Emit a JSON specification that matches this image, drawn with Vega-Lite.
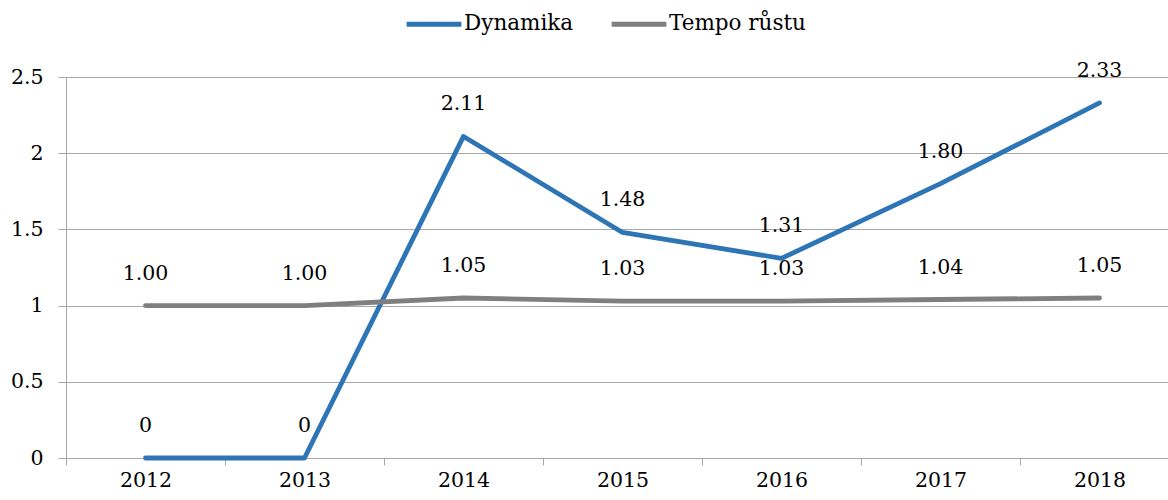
{
  "$schema": "https://vega.github.io/schema/vega-lite/v6.json",
  "width": 1102,
  "height": 381,
  "autosize": "none",
  "padding": {"left": 66, "top": 77, "right": 0, "bottom": 42},
  "background": "white",
  "config": {
    "view": {"stroke": null},
    "font": "DejaVu Serif"
  },
  "data": {"values": [
    {"year": "2012", "series": "Dynamika", "value": 0, "label": "0"},
    {"year": "2013", "series": "Dynamika", "value": 0, "label": "0"},
    {"year": "2014", "series": "Dynamika", "value": 2.11, "label": "2.11"},
    {"year": "2015", "series": "Dynamika", "value": 1.48, "label": "1.48"},
    {"year": "2016", "series": "Dynamika", "value": 1.31, "label": "1.31"},
    {"year": "2017", "series": "Dynamika", "value": 1.80, "label": "1.80"},
    {"year": "2018", "series": "Dynamika", "value": 2.33, "label": "2.33"},
    {"year": "2012", "series": "Tempo růstu", "value": 1.00, "label": "1.00"},
    {"year": "2013", "series": "Tempo růstu", "value": 1.00, "label": "1.00"},
    {"year": "2014", "series": "Tempo růstu", "value": 1.05, "label": "1.05"},
    {"year": "2015", "series": "Tempo růstu", "value": 1.03, "label": "1.03"},
    {"year": "2016", "series": "Tempo růstu", "value": 1.03, "label": "1.03"},
    {"year": "2017", "series": "Tempo růstu", "value": 1.04, "label": "1.04"},
    {"year": "2018", "series": "Tempo růstu", "value": 1.05, "label": "1.05"}
  ]},
  "encoding": {
    "x": {
      "field": "year", "type": "ordinal",
      "scale": {"range": [0, 1113], "paddingInner": 0, "paddingOuter": 0},
      "axis": {
        "title": null, "labelAngle": 0, "tickBand": "extent",
        "domainColor": "#a6a6a6", "tickColor": "#a6a6a6", "tickSize": 7,
        "labelFontSize": 20.5, "labelFont": "DejaVu Serif", "labelColor": "black",
        "labelPadding": 5, "grid": false
      }
    },
    "y": {
      "field": "value", "type": "quantitative",
      "scale": {"domain": [0, 2.5], "nice": false},
      "axis": {
        "title": null, "values": [0, 0.5, 1, 1.5, 2, 2.5], "format": "~g",
        "domainColor": "#a6a6a6", "tickColor": "#a6a6a6", "tickSize": 8,
        "gridColor": "#a6a6a6", "gridWidth": 1.2,
        "labelFontSize": 20.5, "labelFont": "DejaVu Serif", "labelColor": "black",
        "labelPadding": 15
      }
    }
  },
  "layer": [
    {
      "mark": {"type": "line", "strokeWidth": 4.8, "strokeCap": "round", "strokeJoin": "round"},
      "encoding": {
        "color": {
          "field": "series", "type": "nominal",
          "scale": {"domain": ["Dynamika", "Tempo růstu"], "range": ["#2e75b6", "#7f7f7f"]},
          "legend": {
            "title": null, "orient": "none", "direction": "horizontal",
            "legendX": 338, "legendY": -83,
            "symbolType": "stroke", "symbolSize": 3000, "symbolStrokeWidth": 4.8,
            "labelFontSize": 21.5, "labelFont": "DejaVu Serif", "labelColor": "black",
            "labelOffset": 0, "columnPadding": 28
          }
        },
        "order": {"field": "series", "sort": "ascending"}
      }
    },
    {
      "mark": {"type": "text", "dy": -32, "fontSize": 20.5, "font": "DejaVu Serif", "color": "black"},
      "encoding": {"text": {"field": "label"}}
    }
  ]
}
